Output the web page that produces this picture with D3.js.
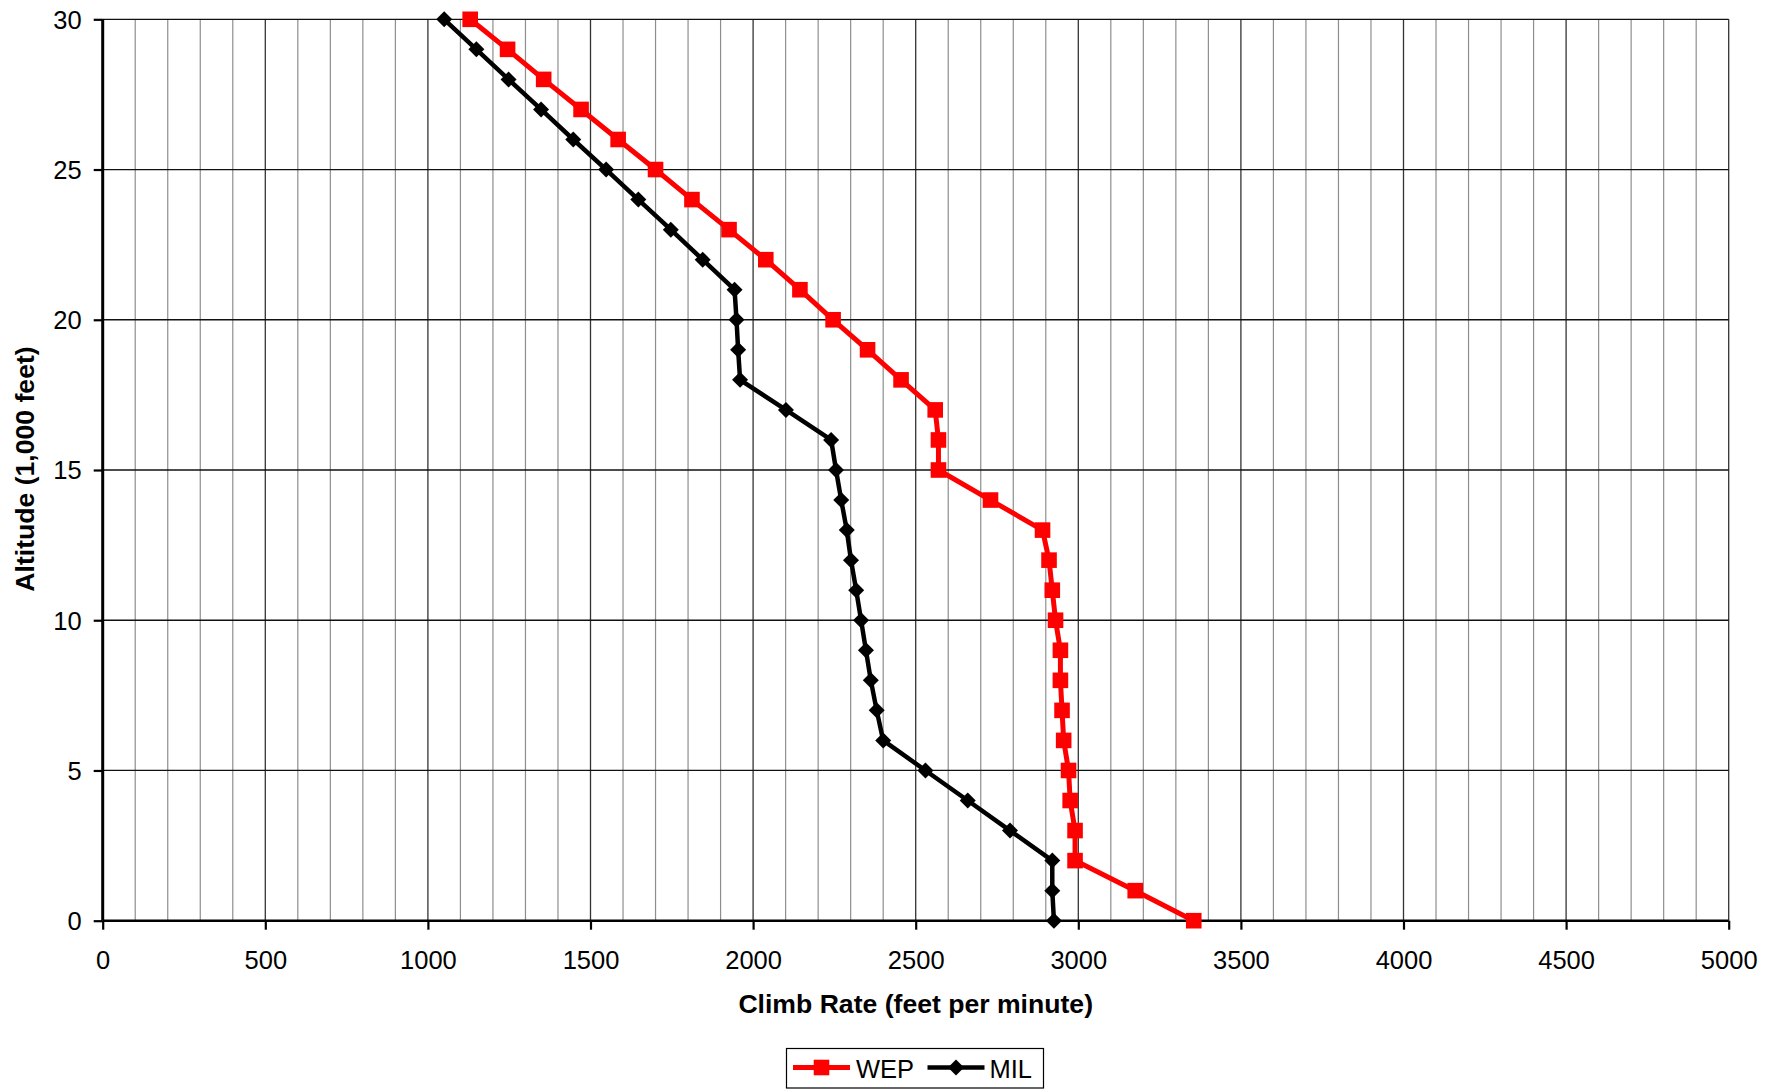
<!DOCTYPE html>
<html>
<head>
<meta charset="utf-8">
<script src="https://cdn.jsdelivr.net/npm/d3@7"></script>
<style>
  html, body { margin: 0; padding: 0; background: #fff; }
  svg { display: block; font-family: "Liberation Sans", Arial, sans-serif; }
</style>
</head>
<body>
<svg id="chart" width="1780" height="1089"></svg>
<script>
// Altitude in thousands of feet
const altitudes = [0,1,2,3,4,5,6,7,8,9,10,11,12,13,14,15,16,17,18,19,20,21,22,23,24,25,26,27,28,29,30];
// Climb rate (feet per minute)
const wepValues = [3355,3175,2990,2990,2975,2970,2955,2950,2945,2945,2930,2920,2910,2890,2730,2570,2570,2560,2455,2352,2246,2144,2039,1926,1812,1700,1585,1471,1356,1245,1130];
const milValues = [2925,2920,2920,2790,2660,2530,2400,2380,2362,2347,2332,2317,2301,2288,2271,2255,2240,2101,1960,1954,1949,1943,1845,1747,1647,1548,1447,1348,1248,1149,1050];
const xTicks = [0,500,1000,1500,2000,2500,3000,3500,4000,4500,5000];
const yTicks = [0,5,10,15,20,25,30];
const seriesNames = ["WEP","MIL"];
const seriesColors = ["#ff0000","#000000"];

const svg = d3.select("#chart");
const L = 102.7, R = 1728.7, T = 19.3, B = 920.7;
const x = d3.scaleLinear().domain([0,5000]).range([L,R]);
const y = d3.scaleLinear().domain([0,30]).range([B,T]);

// Minor vertical gridlines
const minor = d3.range(100, 5000, 100).filter(v => v % 500 !== 0);
svg.append("g").selectAll("line").data(minor).join("line")
  .attr("x1", d => x(d)).attr("x2", d => x(d))
  .attr("y1", T).attr("y2", B)
  .attr("stroke", "#8e8e8e").attr("stroke-width", 1.2);
// Major vertical gridlines
svg.append("g").selectAll("line").data(xTicks.filter(v => v > 0)).join("line")
  .attr("x1", d => x(d)).attr("x2", d => x(d))
  .attr("y1", T).attr("y2", B)
  .attr("stroke", "#333").attr("stroke-width", 1.3);
// Horizontal gridlines
svg.append("g").selectAll("line").data(yTicks.filter(v => v > 0)).join("line")
  .attr("x1", L).attr("x2", R)
  .attr("y1", d => y(d)).attr("y2", d => y(d))
  .attr("stroke", "#111").attr("stroke-width", 1.3);

// Axes
const xAxis = svg.append("g").attr("transform", `translate(0,${B})`)
  .call(d3.axisBottom(x).tickValues(xTicks).tickSize(9).tickPadding(21).tickFormat(d3.format("d")));
const yAxis = svg.append("g").attr("transform", `translate(${L},0)`)
  .call(d3.axisLeft(y).tickValues(yTicks).tickSize(9).tickPadding(12).tickFormat(d3.format("d")));
[xAxis, yAxis].forEach(g => {
  g.selectAll("text").attr("font-size", 25.5).attr("fill", "#000")
    .attr("font-family", "'Liberation Sans', Arial, sans-serif");
  g.selectAll(".tick line").attr("stroke", "#000").attr("stroke-width", 2.2);
});
xAxis.select(".domain").attr("stroke", "#000").attr("stroke-width", 2.6).attr("d", `M${L},0H${R}`);
yAxis.select(".domain").attr("stroke", "#000").attr("stroke-width", 3).attr("d", `M0,${B}V${T}`);
yAxis.selectAll("text").attr("dy", "0.35em");

// Axis titles
svg.append("text").attr("x", (L+R)/2).attr("y", 1013)
  .attr("text-anchor", "middle").attr("font-weight", "bold").attr("font-size", 26.6)
  .text("Climb Rate (feet per minute)");
svg.append("text").attr("transform", `translate(34,${(T+B)/2 - 1}) rotate(-90)`)
  .attr("text-anchor", "middle").attr("font-weight", "bold").attr("font-size", 26.6)
  .text("Altitude (1,000 feet)");

const diamond = "M0,-8L8,0L0,8L-8,0Z";
const square = "M-7.8,-7.8H7.8V7.8H-7.8Z";

function drawSeries(vals, color, width, shape) {
  const data = altitudes.map((a, i) => ({a, v: vals[i]}));
  const line = d3.line().x(d => x(d.v)).y(d => y(d.a));
  svg.append("path").datum(data).attr("d", line)
    .attr("fill", "none").attr("stroke", color).attr("stroke-width", width)
    .attr("stroke-linejoin", "round");
  svg.append("g").selectAll("path").data(data).join("path")
    .attr("transform", d => `translate(${x(d.v)},${y(d.a)})`)
    .attr("d", shape).attr("fill", color);
}
drawSeries(milValues, seriesColors[1], 4.5, diamond);
drawSeries(wepValues, seriesColors[0], 5, square);

// Legend
const lg = svg.append("g");
lg.append("rect").attr("x", 786.5).attr("y", 1048.5).attr("width", 257).attr("height", 39.5)
  .attr("fill", "#fff").attr("stroke", "#000").attr("stroke-width", 1.2);
const ly = 1067.5;
lg.append("line").attr("x1", 793).attr("x2", 850).attr("y1", ly).attr("y2", ly)
  .attr("stroke", seriesColors[0]).attr("stroke-width", 5);
lg.append("path").attr("transform", `translate(821.5,${ly})`).attr("d", square).attr("fill", seriesColors[0]);
lg.append("text").attr("x", 856).attr("y", 1078.3).attr("font-size", 25.5).text(seriesNames[0]);
lg.append("line").attr("x1", 927.5).attr("x2", 984.5).attr("y1", ly).attr("y2", ly)
  .attr("stroke", seriesColors[1]).attr("stroke-width", 4.5);
lg.append("path").attr("transform", `translate(956,${ly})`).attr("d", diamond).attr("fill", seriesColors[1]);
lg.append("text").attr("x", 989.5).attr("y", 1078.3).attr("font-size", 25.5).text(seriesNames[1]);
</script>
</body>
</html>
